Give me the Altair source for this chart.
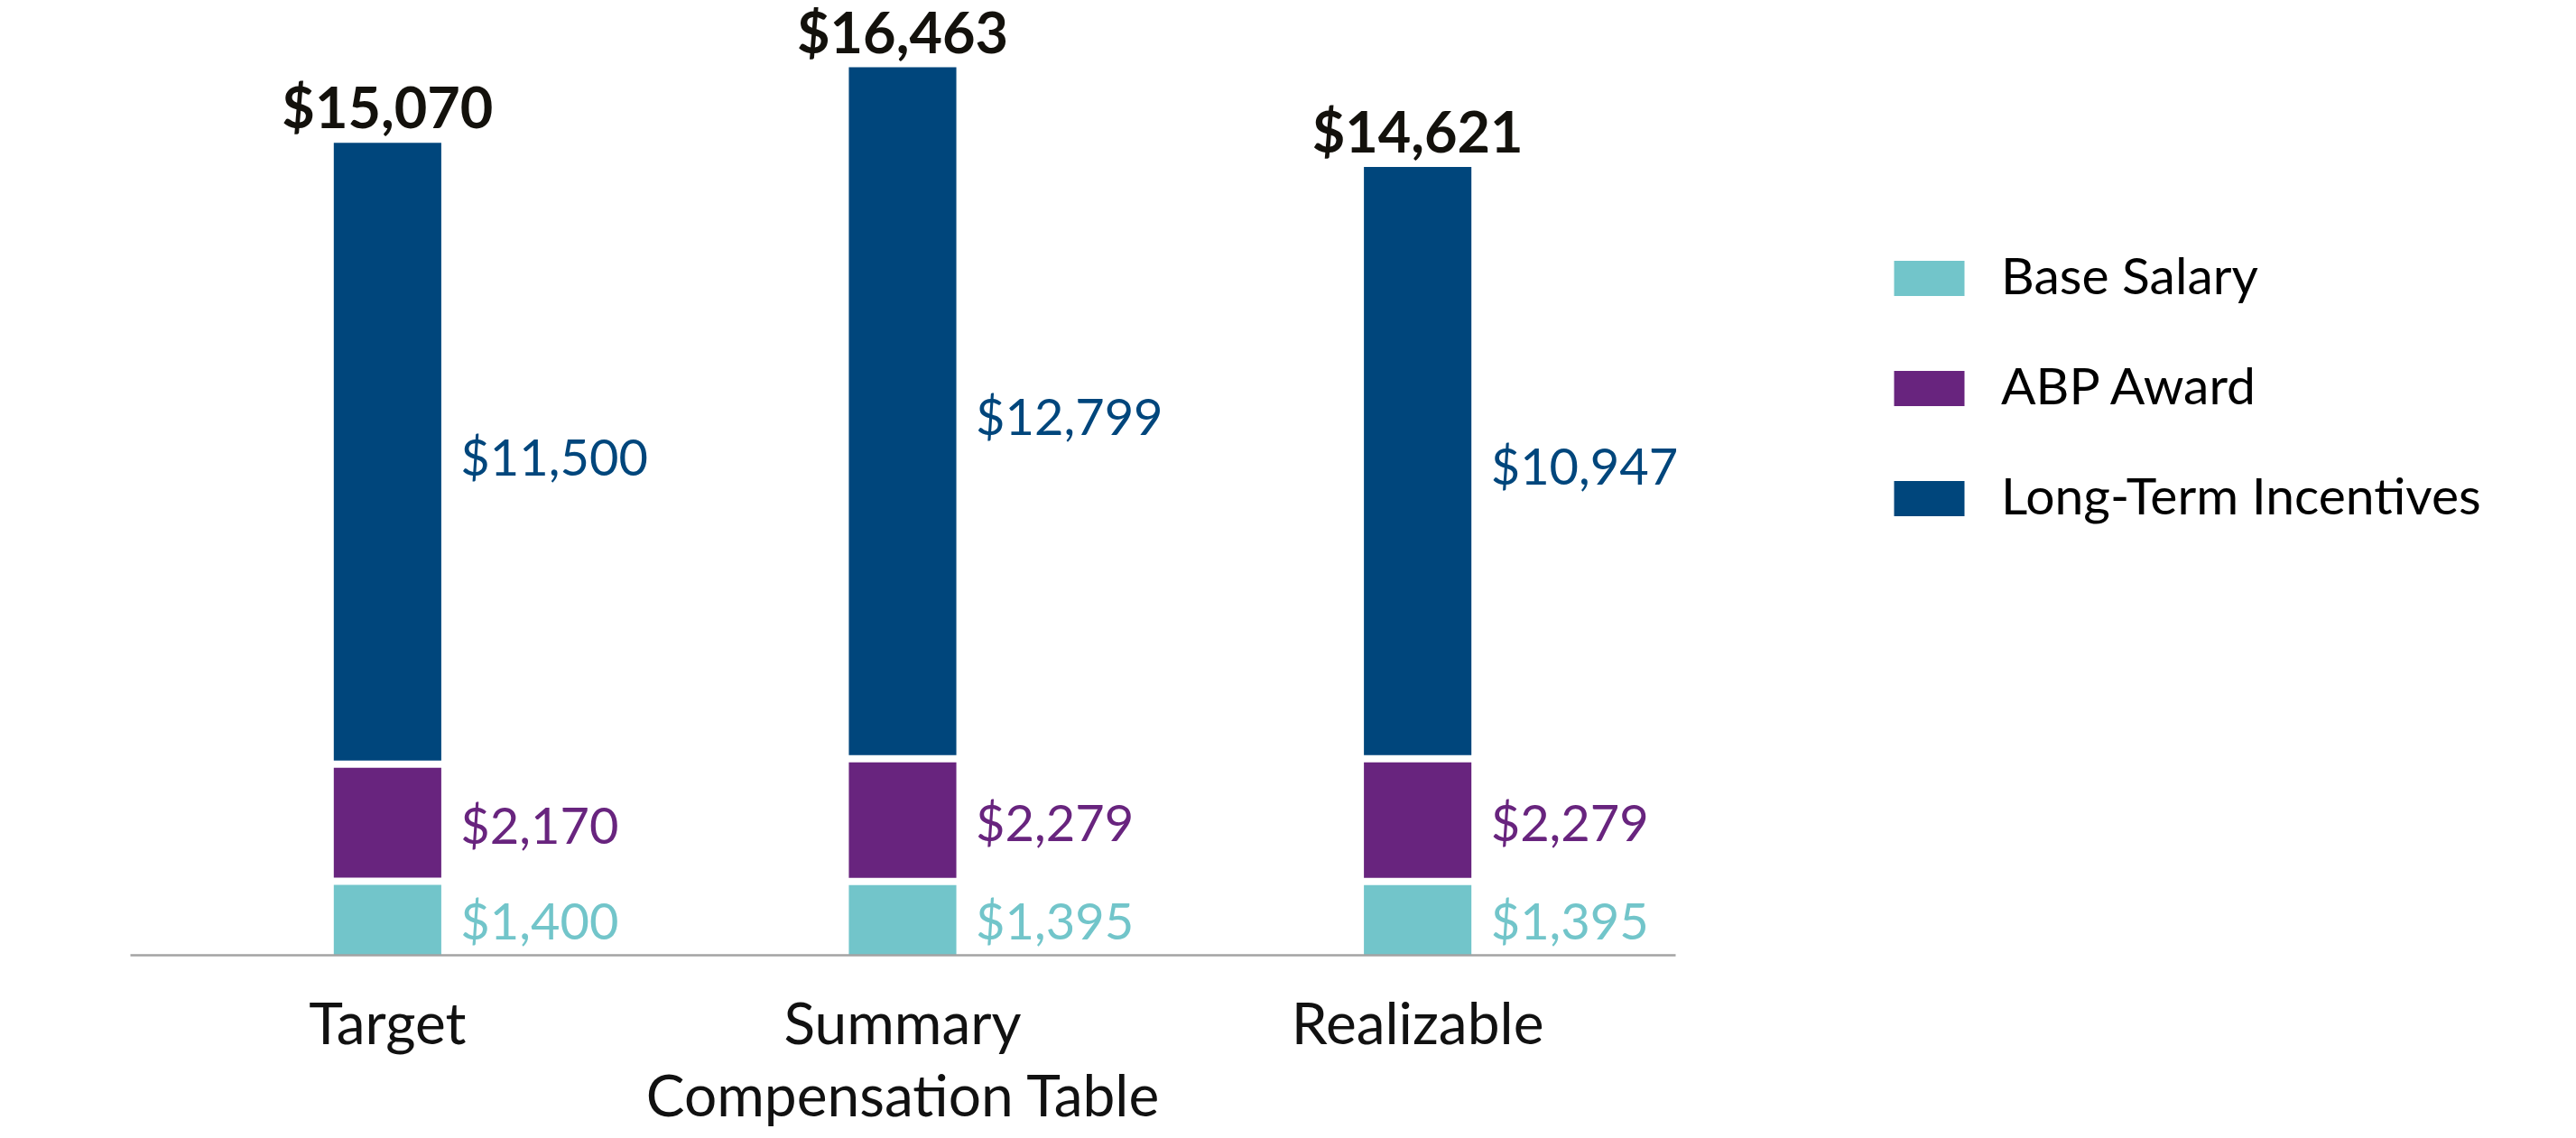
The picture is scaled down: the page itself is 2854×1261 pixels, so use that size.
import altair as alt
import pandas as pd

categories = ["Target", "Summary Compensation Table", "Realizable"]
components = ["Base Salary", "ABP Award", "Long-Term Incentives"]
base_salary = [1400, 1395, 1395]
abp_award = [2170, 2279, 2279]
long_term = [11500, 12799, 10947]
totals = [15070, 16463, 14621]
colors = ["#72C5CA", "#68247E", "#00467C"]

FONT = "Lato, Open Sans, sans-serif"

rows = []
for i, c in enumerate(categories):
    for j, (comp, vals) in enumerate(zip(components, [base_salary, abp_award, long_term])):
        rows.append({"category": c, "component": comp, "idx": j, "value": vals[i]})
df = pd.DataFrame(rows)
tot_df = pd.DataFrame({"category": categories, "total": totals})

x_enc = alt.X(
    "category:N",
    sort=categories,
    title=None,
    scale=alt.Scale(paddingInner=0.7913, paddingOuter=0.3957),
    axis=alt.Axis(
        labelExpr="datum.value == 'Summary Compensation Table' ? ['Summary', 'Compensation Table'] : datum.value",
        labelFont=FONT,
        labelFontSize=64,
        labelColor="#111111",
        labelPadding=47,
        labelLineHeight=80,
        labelLimit=0,
        labelOverlap=False,
        labelAngle=0,
        ticks=False,
        tickSize=0,
        domainColor="#A3A3A3",
        domainWidth=2.5,
        zindex=2,
    ),
)
y_scale = alt.Scale(domain=[0, 17000], nice=False)
color_scale = alt.Scale(domain=components, range=colors)

bars = alt.Chart(df).mark_bar(opacity=1).encode(
    x=x_enc,
    y=alt.Y("value:Q", stack="zero", scale=y_scale, axis=None, title=None),
    color=alt.Color(
        "component:N",
        scale=color_scale,
        legend=alt.Legend(
            title=None,
            orient="none",
            legendX=1965,
            legendY=237,
            labelFont=FONT,
            labelFontSize=57,
            labelColor="#000000",
            symbolType="M-2,-1H2V1H-2Z",
            symbolSize=1521,
            symbolStrokeWidth=0,
            symbolOpacity=1,
            rowPadding=64,
            labelOffset=51,
            labelLimit=0,
            padding=0,
        ),
    ),
    order=alt.Order("idx:Q", sort="ascending"),
)

stacked = (
    alt.Chart(df)
    .transform_stack(stack="value", groupby=["category"], as_=["v0", "v1"], sort=[alt.SortField("idx", "ascending")])
    .transform_calculate(mid="(datum.v0 + datum.v1) / 2", label="'$' + format(datum.value, ',')")
)

gaps = stacked.transform_filter("datum.idx < 2").mark_tick(
    color="white", thickness=8, size=124, yOffset=2, opacity=1
).encode(
    x=alt.X("category:N", sort=categories),
    y=alt.Y("v1:Q", scale=y_scale),
)

seg_labels = stacked.mark_text(
    align="left", baseline="middle", dx=81, dy=8, font=FONT, fontSize=56
).encode(
    x=alt.X("category:N", sort=categories),
    y=alt.Y("mid:Q", scale=y_scale),
    text="label:N",
    color=alt.Color("component:N", scale=color_scale, legend=None),
)

total_labels = alt.Chart(tot_df).transform_calculate(
    label="'$' + format(datum.total, ',')"
).mark_text(
    align="center", baseline="alphabetic", dy=-16, font=FONT, fontSize=63, fontWeight="bold", color="#13110C"
).encode(
    x=alt.X("category:N", sort=categories),
    y=alt.Y("total:Q", scale=y_scale),
    text="label:N",
)

chart = alt.layer(bars, gaps, seg_labels, total_labels).properties(
    width=1712,
    height=1015,
    background="white",
    autosize=alt.AutoSizeParams(type="none"),
    padding={"left": 136, "top": 35, "right": 990, "bottom": 195},
).configure_view(stroke=None)

chart.save("out.html", embed_options={"renderer": "svg", "actions": False})
